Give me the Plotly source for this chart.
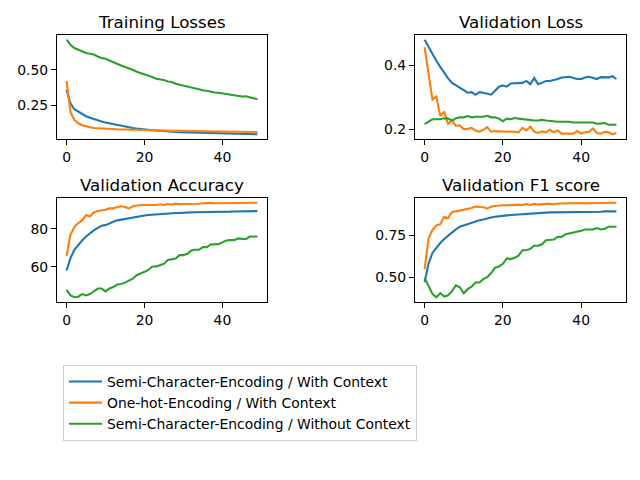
import plotly.graph_objects as go

epochs = list(range(50))
series_names = [
    "Semi-Character-Encoding / With Context",
    "One-hot-Encoding / With Context",
    "Semi-Character-Encoding / Without Context",
]
colors = ["#1f77b4", "#ff7f0e", "#2ca02c"]

train_loss_semi_ctx = [0.360, 0.266, 0.224, 0.206, 0.189, 0.175, 0.164, 0.154, 0.147, 0.138,
                       0.131, 0.125, 0.119, 0.113, 0.107, 0.102, 0.098, 0.093, 0.089, 0.085,
                       0.082, 0.080, 0.077, 0.075, 0.072, 0.070, 0.069, 0.067, 0.065, 0.064,
                       0.063, 0.062, 0.061, 0.060, 0.059, 0.058, 0.057, 0.057, 0.056, 0.055,
                       0.054, 0.054, 0.053, 0.052, 0.052, 0.051, 0.051, 0.050, 0.050, 0.049]
train_loss_onehot_ctx = [0.423, 0.203, 0.150, 0.126, 0.112, 0.103, 0.098, 0.093, 0.091, 0.089,
                         0.086, 0.085, 0.084, 0.083, 0.082, 0.082, 0.081, 0.080, 0.080, 0.079,
                         0.079, 0.078, 0.078, 0.077, 0.076, 0.076, 0.075, 0.074, 0.073, 0.073,
                         0.072, 0.072, 0.071, 0.071, 0.070, 0.070, 0.070, 0.069, 0.069, 0.068,
                         0.068, 0.068, 0.067, 0.067, 0.067, 0.066, 0.066, 0.066, 0.065, 0.065]
train_loss_semi_noctx = [0.710, 0.675, 0.652, 0.640, 0.631, 0.617, 0.612, 0.607, 0.593, 0.582,
                         0.577, 0.565, 0.551, 0.537, 0.530, 0.519, 0.512, 0.500, 0.486, 0.477,
                         0.472, 0.460, 0.449, 0.437, 0.435, 0.428, 0.418, 0.414, 0.402, 0.395,
                         0.388, 0.381, 0.374, 0.369, 0.364, 0.357, 0.353, 0.346, 0.341, 0.339,
                         0.334, 0.329, 0.325, 0.320, 0.315, 0.313, 0.315, 0.308, 0.301, 0.294]

val_loss_semi_ctx = [0.481, 0.458, 0.435, 0.415, 0.396, 0.377, 0.360, 0.346, 0.339, 0.332,
                     0.323, 0.315, 0.317, 0.309, 0.317, 0.315, 0.313, 0.309, 0.321, 0.334,
                     0.338, 0.334, 0.344, 0.344, 0.344, 0.346, 0.352, 0.342, 0.361, 0.342,
                     0.346, 0.352, 0.352, 0.354, 0.358, 0.363, 0.365, 0.365, 0.361, 0.358,
                     0.358, 0.363, 0.365, 0.361, 0.358, 0.364, 0.363, 0.363, 0.367, 0.358]
val_loss_onehot_ctx = [0.458, 0.375, 0.294, 0.303, 0.242, 0.256, 0.218, 0.228, 0.211, 0.213,
                       0.201, 0.202, 0.205, 0.197, 0.193, 0.199, 0.207, 0.193, 0.195, 0.194,
                       0.194, 0.194, 0.194, 0.193, 0.191, 0.205, 0.197, 0.209, 0.193, 0.189,
                       0.194, 0.191, 0.199, 0.191, 0.197, 0.187, 0.187, 0.187, 0.187, 0.195,
                       0.187, 0.191, 0.193, 0.203, 0.189, 0.187, 0.193, 0.191, 0.185, 0.189]
val_loss_semi_noctx = [0.217, 0.225, 0.232, 0.232, 0.232, 0.235, 0.234, 0.228, 0.235, 0.238,
                       0.238, 0.242, 0.238, 0.240, 0.240, 0.240, 0.243, 0.238, 0.238, 0.234,
                       0.226, 0.234, 0.232, 0.236, 0.234, 0.232, 0.230, 0.230, 0.228, 0.228,
                       0.230, 0.228, 0.226, 0.226, 0.224, 0.224, 0.225, 0.224, 0.222, 0.222,
                       0.221, 0.220, 0.220, 0.222, 0.218, 0.220, 0.220, 0.215, 0.215, 0.215]

val_acc_semi_ctx = [58.0, 64.5, 68.9, 71.5, 73.8, 75.9, 77.7, 79.1, 80.5, 81.6,
                    81.9, 83.0, 83.7, 84.4, 84.8, 85.1, 85.5, 85.8, 86.5, 86.9,
                    87.0, 87.2, 87.4, 87.6, 87.8, 87.9, 87.9, 88.1, 88.3, 88.3,
                    88.5, 88.6, 88.6, 88.7, 88.7, 88.8, 88.8, 88.9, 88.9, 89.0,
                    89.0, 88.8, 89.0, 89.1, 89.1, 89.2, 89.2, 89.2, 89.3, 89.3]
val_acc_onehot_ctx = [65.7, 76.8, 80.9, 83.0, 84.4, 87.2, 86.5, 88.6, 89.3, 89.5,
                      90.0, 90.7, 90.7, 91.5, 91.8, 91.5, 90.7, 91.8, 92.2, 92.5,
                      92.5, 92.5, 92.7, 92.5, 92.9, 92.5, 93.0, 92.7, 93.2, 92.9,
                      93.0, 93.0, 93.2, 92.9, 93.2, 93.4, 93.6, 93.6, 93.4, 93.4,
                      93.6, 93.4, 93.6, 93.4, 93.6, 93.6, 93.6, 93.6, 93.7, 93.7]
val_acc_semi_noctx = [47.8, 44.9, 43.9, 44.2, 45.6, 44.9, 45.6, 47.0, 48.5, 48.5,
                      47.0, 48.5, 49.3, 50.6, 50.9, 51.6, 52.7, 53.7, 55.5, 56.6,
                      57.3, 58.3, 60.1, 60.1, 60.8, 61.5, 63.6, 64.0, 64.3, 66.1,
                      66.1, 66.8, 68.5, 68.9, 68.9, 70.3, 70.3, 71.7, 71.9, 71.9,
                      72.8, 73.8, 74.0, 74.0, 74.9, 74.5, 74.5, 75.9, 75.9, 75.9]

val_f1_semi_ctx = [0.472, 0.581, 0.645, 0.677, 0.704, 0.728, 0.748, 0.768, 0.784, 0.800,
                   0.808, 0.819, 0.827, 0.831, 0.839, 0.843, 0.851, 0.855, 0.859, 0.863,
                   0.865, 0.867, 0.869, 0.871, 0.873, 0.873, 0.875, 0.877, 0.879, 0.881,
                   0.883, 0.885, 0.885, 0.885, 0.885, 0.885, 0.887, 0.887, 0.887, 0.887,
                   0.887, 0.889, 0.889, 0.889, 0.889, 0.889, 0.891, 0.891, 0.891, 0.891]
val_f1_onehot_ctx = [0.550, 0.730, 0.780, 0.808, 0.815, 0.859, 0.851, 0.887, 0.891, 0.895,
                     0.903, 0.907, 0.911, 0.919, 0.919, 0.915, 0.907, 0.919, 0.923, 0.927,
                     0.927, 0.927, 0.929, 0.927, 0.931, 0.929, 0.935, 0.929, 0.935, 0.931,
                     0.935, 0.935, 0.935, 0.933, 0.937, 0.938, 0.938, 0.940, 0.938, 0.938,
                     0.940, 0.938, 0.940, 0.938, 0.940, 0.940, 0.940, 0.940, 0.940, 0.942]
val_f1_semi_noctx = [0.498, 0.446, 0.403, 0.383, 0.407, 0.387, 0.395, 0.419, 0.454, 0.442,
                     0.407, 0.431, 0.446, 0.470, 0.470, 0.490, 0.502, 0.526, 0.558, 0.565,
                     0.581, 0.613, 0.609, 0.617, 0.629, 0.661, 0.661, 0.669, 0.688, 0.688,
                     0.696, 0.720, 0.724, 0.724, 0.740, 0.740, 0.756, 0.760, 0.764, 0.772,
                     0.776, 0.784, 0.784, 0.784, 0.792, 0.784, 0.788, 0.800, 0.800, 0.800]

panel_titles = ["Training Losses", "Validation Loss", "Validation Accuracy", "Validation F1 score"]
panel_data = [
    [train_loss_semi_ctx, train_loss_onehot_ctx, train_loss_semi_noctx],
    [val_loss_semi_ctx, val_loss_onehot_ctx, val_loss_semi_noctx],
    [val_acc_semi_ctx, val_acc_onehot_ctx, val_acc_semi_noctx],
    [val_f1_semi_ctx, val_f1_onehot_ctx, val_f1_semi_noctx],
]
x_ticks = [0, 20, 40]
y_ticks = [[0.25, 0.50], [0.2, 0.4], [60, 80], [0.50, 0.75]]
y_formats = [".2f", ".1f", "d", ".2f"]

W, H = 640, 480
# axes boxes in pixels: (left, top, right, bottom)
boxes = [(57, 35, 267, 139), (415, 35, 626, 139), (57, 198, 267, 302), (415, 198, 626, 302)]

FONT = "DejaVu Sans"
fig = go.Figure()
layout = dict(
    width=W, height=H, margin=dict(l=0, r=0, t=0, b=0, autoexpand=False),
    paper_bgcolor="white", plot_bgcolor="white",
    font=dict(family=FONT, color="black", size=14),
    annotations=[],
    showlegend=True,
)

def padded(vals):
    lo, hi = min(vals), max(vals)
    s = hi - lo
    return [lo - 0.05 * s, hi + 0.05 * s]

for p in range(4):
    ax = "" if p == 0 else str(p + 1)
    l, t, r, b = boxes[p]
    all_y = [v for s in panel_data[p] for v in s]
    common = dict(
        showline=True, mirror=True, linecolor="black", linewidth=1.1,
        ticks="outside", ticklen=5, tickwidth=1.1, tickcolor="black",
        showgrid=False, zeroline=False, automargin=False,
        tickfont=dict(family=FONT, size=13.9, color="black"),
    )
    layout["xaxis" + ax] = dict(
        domain=[l / W, r / W], anchor="y" + ax,
        range=padded(epochs), tickvals=x_ticks, **common,
    )
    layout["yaxis" + ax] = dict(
        domain=[1 - b / H, 1 - t / H], anchor="x" + ax,
        range=padded(all_y), tickvals=y_ticks[p], tickformat=y_formats[p], **common,
    )
    layout["annotations"].append(dict(
        text=panel_titles[p], xref="paper", yref="paper",
        x=(l + r) / 2 / W, y=1 - (t - 13) / H, xanchor="center", yanchor="middle",
        showarrow=False, font=dict(family=FONT, size=16.7, color="black"),
    ))
    for k in range(3):
        fig.add_trace(go.Scatter(
            x=epochs, y=panel_data[p][k], mode="lines",
            line=dict(color=colors[k], width=2.1),
            name=series_names[k], legendgroup=series_names[k], showlegend=(p == 0),
            xaxis="x" + ax, yaxis="y" + ax,
        ))

layout["legend"] = dict(
    x=63 / W, y=1 - 365 / H, xanchor="left", yanchor="top",
    bordercolor="#cccccc", borderwidth=1, bgcolor="white",
    font=dict(family=FONT, size=13.9, color="black"),
    itemwidth=33, tracegroupgap=0,
)
fig.update_layout(**layout)
fig.write_html(
    "out.html",
    config={"displayModeBar": False},
    post_script="document.body.style.margin='0px';document.body.style.overflow='hidden';",
)
